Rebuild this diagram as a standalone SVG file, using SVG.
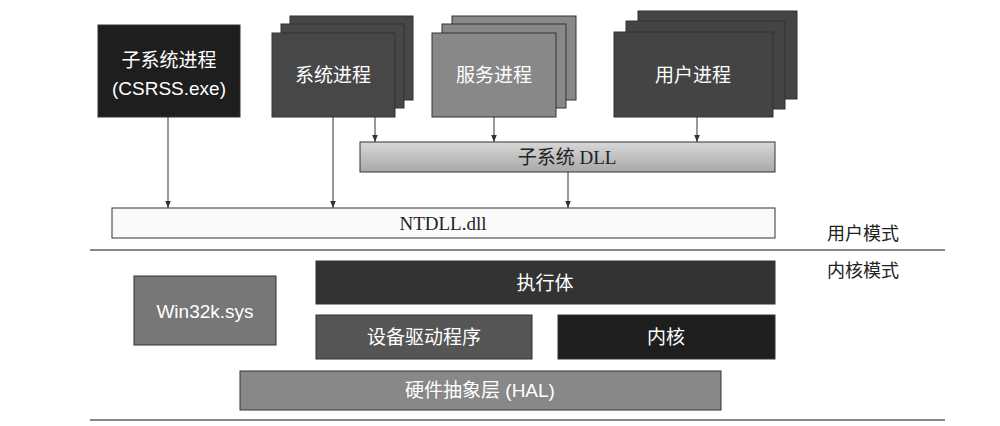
<svg xmlns="http://www.w3.org/2000/svg" width="1000" height="426" viewBox="0 0 1000 426">
<defs>
<style>
.t{font-family:"Liberation Sans","Noto Sans CJK SC",sans-serif;fill:#fff;text-anchor:middle;font-size:19px}
.s{font-family:"Liberation Serif","Noto Sans CJK SC",serif;fill:#222;text-anchor:middle;font-size:19px}
.b{stroke:#333;stroke-width:1}
.c line{stroke:#333;stroke-width:1;marker-end:url(#a)}
.m{font-family:"Noto Sans CJK SC",sans-serif;fill:#222;font-size:18px}
</style>
<marker id="a" viewBox="0 0 10 10" refX="10" refY="5" markerWidth="7" markerHeight="7" orient="auto"><path d="M0,1 L10,5 L0,9 z" fill="#333"/></marker>
<linearGradient id="g" x1="0" y1="0" x2="0" y2="1"><stop offset="0" stop-color="#d8d8d8"/><stop offset="1" stop-color="#a8a8a8"/></linearGradient>
</defs>
<rect width="1000" height="426" fill="#fff"/>
<g id="csrss"><rect class="b" x="98" y="25" width="142" height="92" fill="#1e1e1e"/><text class="t" x="169" y="67">子系统进程</text><text class="t" x="169" y="95">(CSRSS.exe)</text></g>
<g id="sys"><rect class="b" x="290" y="16" width="123" height="84" fill="#474747"/><rect class="b" x="281" y="24" width="123" height="84" fill="#474747"/><rect class="b" x="272" y="33" width="123" height="84" fill="#474747"/><text class="t" x="333" y="82">系统进程</text></g>
<g id="svc"><rect class="b" x="452" y="16" width="124" height="84" fill="#888"/><rect class="b" x="442" y="24" width="124" height="84" fill="#888"/><rect class="b" x="432" y="33" width="124" height="84" fill="#888"/><text class="t" x="494" y="82">服务进程</text></g>
<g id="usr"><rect class="b" x="638" y="11" width="159" height="88" fill="#444"/><rect class="b" x="626" y="21" width="159" height="88" fill="#444"/><rect class="b" x="614" y="32" width="159" height="85" fill="#444"/><text class="t" x="693" y="82">用户进程</text></g>
<g id="dll"><rect class="b" x="360" y="142" width="415" height="30" fill="url(#g)"/><text class="s" x="567" y="164">子系统 DLL</text></g>
<g id="ntdll"><rect class="b" x="112" y="208" width="663" height="30" fill="#fafafa"/><text class="s" x="443" y="230">NTDLL.dll</text></g>
<g class="c">
<line x1="168" y1="117" x2="168" y2="208"/><line x1="333" y1="117" x2="333" y2="208"/>
<line x1="375" y1="117" x2="375" y2="142"/><line x1="494" y1="117" x2="494" y2="142"/><line x1="697" y1="117" x2="697" y2="142"/>
<line x1="568" y1="172" x2="568" y2="208"/>
</g>
<line x1="90" y1="250" x2="945" y2="250" stroke="#888" stroke-width="2"/>
<line x1="90" y1="420" x2="945" y2="420" stroke="#888" stroke-width="2"/>
<text class="m" x="827" y="240">用户模式</text><text class="m" x="827" y="277">内核模式</text>
<g id="win32k"><rect class="b" x="134" y="276" width="142" height="69" fill="#777"/><text class="t" x="205" y="318">Win32k.sys</text></g>
<g id="exec"><rect class="b" x="316" y="261" width="459" height="43" fill="#333"/><text class="t" x="545" y="290">执行体</text></g>
<g id="drv"><rect class="b" x="316" y="315" width="216" height="44" fill="#555"/><text class="t" x="424" y="344">设备驱动程序</text></g>
<g id="kern"><rect class="b" x="558" y="315" width="217" height="44" fill="#1e1e1e"/><text class="t" x="666" y="344">内核</text></g>
<g id="hal"><rect class="b" x="240" y="371" width="481" height="39" fill="#888"/><text class="t" x="480" y="397">硬件抽象层 (HAL)</text></g>
</svg>
